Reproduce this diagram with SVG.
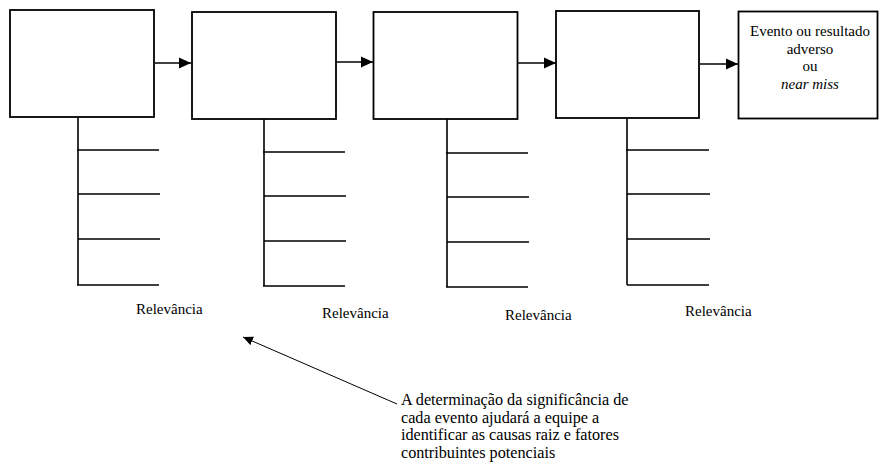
<svg xmlns="http://www.w3.org/2000/svg" width="879" height="463" viewBox="0 0 879 463">
<defs>
<style>
.box{fill:#fff;stroke:#000;stroke-width:1.8}
.ln{stroke:#000;stroke-width:1.6;fill:none}
.thin{stroke:#000;stroke-width:1;fill:none}
text{font-family:"Liberation Serif","Times New Roman",serif;font-size:15px;fill:#000}
.note{font-size:16.2px}
</style>
<marker id="ah" markerUnits="userSpaceOnUse" markerWidth="12" markerHeight="12" viewBox="0 0 12 12" refX="12" refY="6" orient="auto">
<path d="M0,0.5 L12,6 L0,11.5 Z" fill="#000"/>
</marker>
<marker id="ahs" markerUnits="userSpaceOnUse" markerWidth="10" markerHeight="10" viewBox="0 0 10 10" refX="10" refY="5" orient="auto">
<path d="M0,0.5 L10,5 L0,9.5 Z" fill="#000"/>
</marker>
</defs>
<g id="connectors">
<line class="ln" x1="155" y1="63" x2="191" y2="63" marker-end="url(#ah)"/>
<line class="ln" x1="337" y1="62" x2="373" y2="62" marker-end="url(#ah)"/>
<line class="ln" x1="518" y1="63" x2="556" y2="63" marker-end="url(#ah)"/>
<line class="ln" x1="700" y1="64" x2="738" y2="64" marker-end="url(#ah)"/>
<line class="thin" x1="397" y1="404" x2="243" y2="337" marker-end="url(#ahs)"/>
</g>
<g id="node1">
<rect class="box" x="10" y="10" width="144" height="107"/>
<path class="ln" d="M78,117 V285 M77,150 H159 M78,194 H160 M78,239 H160 M77,285 H159"/>
<text x="136" y="314">Relevância</text>
</g>
<g id="node2">
<rect class="box" x="192" y="12" width="144" height="107"/>
<path class="ln" d="M264,119 V286 M263,152 H345 M264,196 H346 M264,241 H346 M263,286 H345"/>
<text x="322" y="318">Relevância</text>
</g>
<g id="node3">
<rect class="box" x="373.5" y="12" width="144" height="107"/>
<path class="ln" d="M447,119 V287 M446,153 H528 M447,197 H529 M447,242 H529 M446,287 H528"/>
<text x="505" y="320">Relevância</text>
</g>
<g id="node4">
<rect class="box" x="556" y="11" width="143" height="107"/>
<path class="ln" d="M627,118 V285 M626,150 H709 M627,194 H710 M627,239 H710 M627,285 H709"/>
<text x="685" y="316">Relevância</text>
</g>
<g id="node5">
<rect class="box" x="738.5" y="11.5" width="139" height="107"/>
<text x="810" y="36" text-anchor="middle">Evento ou resultado</text>
<text x="810" y="53.5" text-anchor="middle">adverso</text>
<text x="810" y="71" text-anchor="middle">ou</text>
<text x="810" y="88.5" text-anchor="middle" font-style="italic">near miss</text>
</g>
<g id="note">
<text class="note" x="401" y="405">A determinação da significância de</text>
<text class="note" x="401" y="422.5">cada evento ajudará a equipe a</text>
<text class="note" x="401" y="440">identificar as causas raiz e fatores</text>
<text class="note" x="401" y="457.5">contribuintes potenciais</text>
</g>
</svg>
